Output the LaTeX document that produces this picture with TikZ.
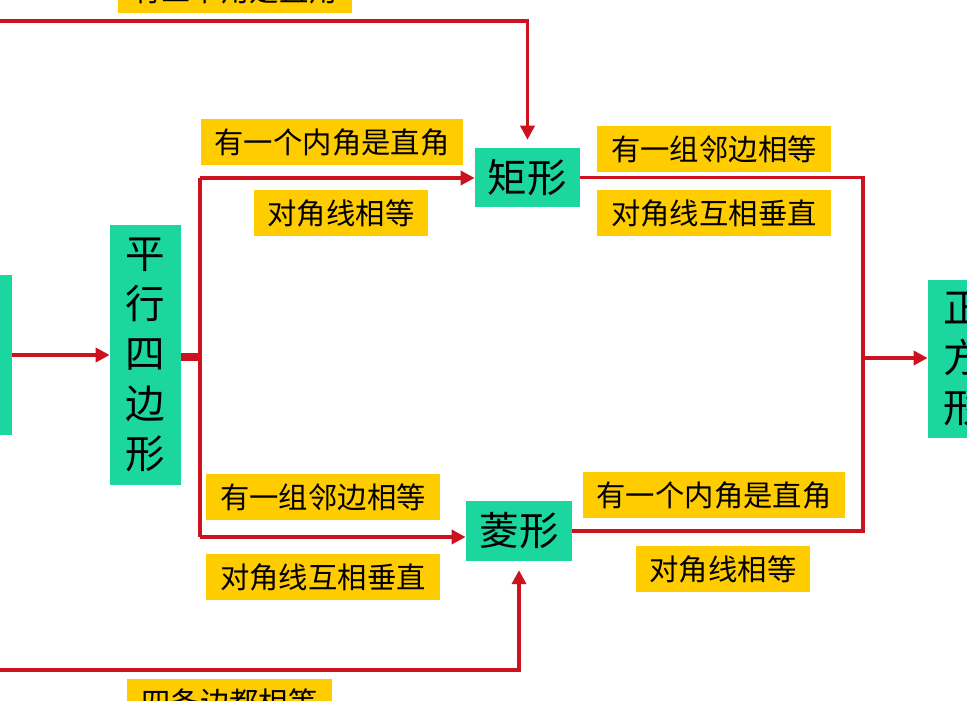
\documentclass[tikz,border=0pt]{standalone}
\usepackage{fontspec}
\usepackage{xcolor}
\usetikzlibrary{positioning, arrows.meta}
\setmainfont{Noto Sans CJK SC}
\definecolor{shapegreen}{RGB}{28,214,160}
\definecolor{condyellow}{RGB}{255,204,0}
\definecolor{linkred}{RGB}{204,18,30}
\tikzset{
    figbox/.style={fill=shapegreen, inner sep=0pt, align=center,
        font=\fontsize{22.5}{28.4}\selectfont},
    cond/.style={fill=condyellow, minimum height=0.92cm, inner xsep=0.28cm,
        inner ysep=0pt, font=\fontsize{16.7}{18}\selectfont},
    link/.style={draw=linkred, line width=2pt},
    arr/.style={link, -{Triangle[length=8pt, width=8pt]}}
}
\begin{document}
\begin{tikzpicture}[x=0.02cm, y=-0.02cm]
        \useasboundingbox (0,0) rectangle (967,700);
        \clip (0,0) rectangle (967,700);
        % shapes
        \node[figbox, minimum width=1.4cm, minimum height=3.2cm] (quad) at (-23,355) {四\\边\\形};
        \node[figbox, minimum width=1.42cm, minimum height=5.2cm] (para) at (145.5,355) {平\\行\\四\\边\\形};
        \node[figbox, minimum width=2.1cm, minimum height=1.18cm] (rect) at (527.5,177.5) {矩形};
        \node[figbox, minimum width=2.12cm, minimum height=1.2cm] (rhomb) at (519,531) {菱形};
        \node[figbox, minimum width=1.42cm, minimum height=3.16cm] (square) at (963.5,359) {正\\方\\形};
        % conditions
        \node[cond] (c1) at (235,-10) {有三个角是直角};
        \node[cond] (c2) at (332,142) {有一个内角是直角};
        \node[cond] (c3) at (341,213) {对角线相等};
        \node[cond] (c4) at (323,497) {有一组邻边相等};
        \node[cond] (c5) at (323,577) {对角线互相垂直};
        \node[cond] (c6) at (229.5,702) {四条边都相等};
        \node[cond] (c7) at (714,149) {有一组邻边相等};
        \node[cond] (c8) at (714,213) {对角线互相垂直};
        \node[cond] (c9) at (714,495) {有一个内角是直角};
        \node[cond] (c10) at (723,569) {对角线相等};
        % junctions
        \coordinate (top) at (-23,21);
        \coordinate (bot) at (-23,670);
        \coordinate (pj) at (200,357);
        \coordinate (pt) at (200,178);
        \coordinate (pb) at (200,537);
        \coordinate (sj) at (863,358);
        % links
        \draw[arr] (quad.east |- para) -- (para.west);
        \draw[arr, shorten >=4.5pt] (quad.north) -- (top) -| (rect.north);
        \draw[arr, shorten >=5pt] (quad.south) -- (bot) -| (rhomb.south);
        \draw[link, line width=4pt] (para.east |- pj) -- (pj);
        \draw[link] (pt) -- (pb);
        \draw[arr] (pt) -- (rect.west |- pt);
        \draw[arr] (pb) -- (rhomb.west |- pb);
        \draw[link] (rect.east) -| (sj |- rect.east) -- (sj |- rhomb.east) -- (rhomb.east);
        \draw[arr] (sj) -- (square.west |- sj);
    \end{tikzpicture}
\end{document}
